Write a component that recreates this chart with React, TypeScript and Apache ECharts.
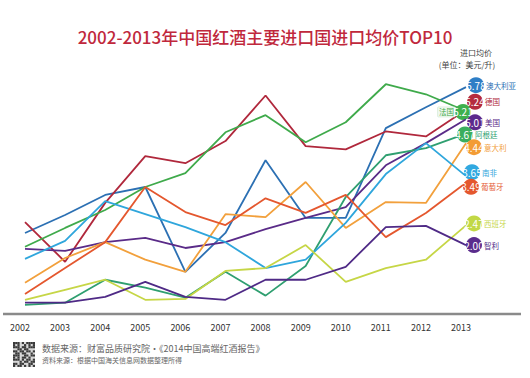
import React, { useEffect, useRef } from "react";
import * as echarts from "echarts";

const years = ["2002", "2003", "2004", "2005", "2006", "2007", "2008", "2009", "2010", "2011", "2012", "2013"];

const australia = [2.29, 2.72, 3.2, 3.39, 1.36, 2.29, 4.03, 2.65, 2.65, 4.8, 5.3, 5.78];
const germany = [2.55, 1.6, 3.01, 4.13, 3.96, 4.49, 5.58, 4.37, 4.29, 4.72, 4.6, 5.24];
const france = [1.96, 2.41, 2.84, 3.39, 3.72, 4.7, 5.11, 4.46, 4.94, 5.85, 5.61, 5.21];
const usa = [1.91, 1.86, 2.07, 2.17, 1.93, 2.07, 2.38, 2.65, 2.91, 3.91, 4.44, 5.01];
const argentina = [0.57, 0.62, 1.17, 0.98, 0.74, 1.36, 0.79, 1.5, 3.15, 4.15, 4.32, 4.67];
const italy = [1.1, 1.69, 2.07, 1.65, 1.36, 2.74, 2.67, 3.51, 2.41, 3.03, 3.01, 4.44];
const southAfrica = [1.67, 2.1, 3.05, 2.74, 2.43, 2.07, 1.45, 1.65, 2.53, 3.7, 4.44, 3.65];
const portugal = [0.83, 1.45, 2.07, 3.39, 2.79, 2.48, 3.12, 2.77, 3.2, 2.19, 2.77, 3.49];
const spain = [0.69, 0.93, 1.17, 0.69, 0.71, 1.38, 1.45, 2.0, 1.12, 1.45, 1.65, 2.47];
const chile = [0.62, 0.62, 0.76, 1.12, 0.76, 0.69, 1.17, 1.17, 1.48, 2.43, 2.46, 2.0];

const names = ["澳大利亚", "德国", "法国", "美国", "阿根廷", "意大利", "南非", "葡萄牙", "西班牙", "智利"];
const values = [australia, germany, france, usa, argentina, italy, southAfrica, portugal, spain, chile];
const colors = ["#2c70b3", "#b0283c", "#3faa4b", "#5a2b88", "#2f9f70", "#f2a03c", "#2fa6dc", "#e4572e", "#c6d646", "#4f2a86"];
const circleColors = ["#2e7ec6", "#b52b3e", "#3fb04e", "#5d2a8c", "#3aae5e", "#f39c35", "#30a8e0", "#e4572e", "#c2d845", "#5a2c8c"];
const offsets: number[][] = [[10, -2], [9, -8], [-3, 1], [9, 3], [-1, 1], [8, 4], [6, -4], [5, 4], [8, -2], [8, 0]];

const title = "2002-2013年中国红酒主要进口国进口均价TOP10";
const unitLine1 = "进口均价";
const unitLine2 = "(单位：美元/升)";
const source1 = "数据来源：财富品质研究院·《2014中国高端红酒报告》";
const source2 = "资料来源：根据中国海关信息网数据整理所得";

const FONT = "'Noto Sans CJK SC', 'Noto Sans', sans-serif";

function qrCode() {
  const pattern = [
    "1110101111",
    "1010010101",
    "1110110111",
    "0011011000",
    "1101101101",
    "0110110010",
    "1110011011",
    "1010110100",
    "1110101101",
    "0001011011",
    "1101100110",
    "1011010101",
  ];
  const children: any[] = [
    { type: "rect", shape: { x: 13, y: 342, width: 22, height: 25 }, style: { fill: "#d8d8d8" } },
  ];
  pattern.forEach((row, r) => {
    row.split("").forEach((c, col) => {
      if (c === "1") {
        children.push({
          type: "rect",
          shape: { x: 13 + col * 2.2, y: 342 + r * 2.08, width: 2.2, height: 2.08 },
          style: { fill: "#3a3a3a" },
        });
      }
    });
  });
  return { type: "group", children };
}

export default function App() {
  const ref = useRef<HTMLDivElement>(null);
  useEffect(() => {
    document.body.style.margin = "0";
    const chart = echarts.init(ref.current!, null, { renderer: "svg" });
    const series = names.map((name, i) => {
      const vals = values[i];
      const last = vals.length - 1;
      const isLeft = i === 2;
      const data: any[] = vals.map((v, j) => {
        if (j !== last) return v;
        return {
          value: v,
          symbol: "circle",
          symbolSize: 16,
          symbolOffset: offsets[i],
          itemStyle: { color: circleColors[i] },
          label: {
            show: true,
            position: isLeft ? [16, 8] : [0, 8],
            align: isLeft ? "right" : "left",
            verticalAlign: "middle",
            formatter: isLeft ? `{n|${name}}{v|${v.toFixed(2)}}` : `{v|${v.toFixed(2)}}{n|${name}}`,
            rich: {
              v: { color: "#fff", fontSize: 10, width: 16, align: "center", fontFamily: FONT },
              n: isLeft
                ? {
                    color: colors[i],
                    fontSize: 7.5,
                    fontFamily: FONT,
                    backgroundColor: "#eef7ee",
                    borderColor: "#bfe0c2",
                    borderWidth: 0.5,
                    padding: [1, 1, 1, 1],
                  }
                : { color: colors[i], fontSize: 7.5, fontFamily: FONT, padding: [0, 0, 0, 2] },
            },
          },
        };
      });
      return {
        type: "line",
        name,
        data,
        symbol: "none",
        showSymbol: true,
        lineStyle: { color: colors[i], width: 1.8 },
        itemStyle: { color: colors[i] },
        label: { show: false },
        z: 2 + i,
      };
    });
    chart.setOption({
      animation: false,
      backgroundColor: "#ffffff",
      title: {
        text: title,
        left: "center",
        top: 23,
        textStyle: { color: "#c0283c", fontSize: 17, fontWeight: 500, fontFamily: FONT },
      },
      grid: { left: 25, right: 64, top: 55, bottom: 64, containLabel: false },
      xAxis: {
        type: "category",
        data: years,
        boundaryGap: false,
        axisLine: { show: false },
        axisTick: { show: false },
        splitLine: { show: false },
        axisLabel: { color: "#333", fontSize: 9, margin: 9, padding: [0, 10, 0, 0], fontFamily: FONT },
      },
      yAxis: {
        type: "value",
        min: 0.35,
        max: 6.55,
        show: false,
        splitLine: { show: false },
      },
      graphic: [
        { type: "line", shape: { x1: 3, y1: 314, x2: 521, y2: 314 }, style: { stroke: "#8a8a8a", lineWidth: 2.5 } },
        {
          type: "text",
          x: 476,
          y: 52,
          style: { text: unitLine1, fill: "#444", fontSize: 8, align: "center", verticalAlign: "middle", fontFamily: FONT },
        },
        {
          type: "text",
          x: 467,
          y: 64,
          style: { text: unitLine2, fill: "#444", fontSize: 8, align: "center", verticalAlign: "middle", fontFamily: FONT },
        },
        qrCode(),
        {
          type: "text",
          x: 42,
          y: 348,
          style: { text: source1, fill: "#666", fontSize: 9, verticalAlign: "middle", fontFamily: FONT },
        },
        {
          type: "text",
          x: 42,
          y: 360,
          style: { text: source2, fill: "#666", fontSize: 7, verticalAlign: "middle", fontFamily: FONT },
        },
      ],
      series,
    });
    return () => chart.dispose();
  }, []);
  return <div ref={ref} style={{ position: "fixed", left: 0, top: 0, width: 530, height: 378 }} />;
}
